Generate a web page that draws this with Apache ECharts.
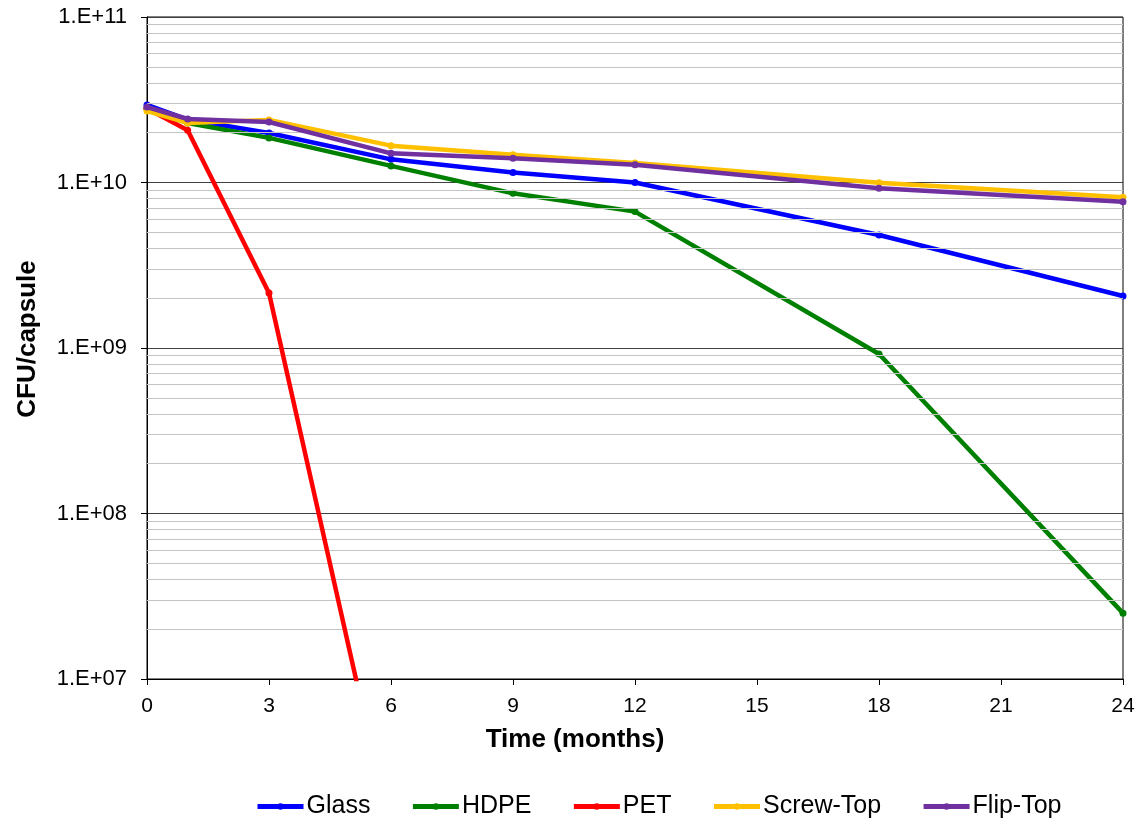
<!DOCTYPE html>
<html>
<head>
<meta charset="utf-8">
<script src="https://cdn.jsdelivr.net/npm/echarts@6/dist/echarts.min.js"></script>
<style>
html,body{margin:0;padding:0;background:#fff;}
#chart{width:1138px;height:819px;}
</style>
</head>
<body>
<div id="chart"></div>
<script>
// ---- data ----
const months = [0, 1, 3, 6, 9, 12, 18, 24];
const glass = [2.94e10, 2.40e10, 1.99e10, 1.38e10, 1.15e10, 1.00e10, 4.82e9, 2.06e9];
const hdpe = [2.80e10, 2.29e10, 1.86e10, 1.26e10, 8.6e9, 6.67e9, 9.2e8, 2.5e7];
const petMonths = [0, 1, 3, 6];
const pet = [2.80e10, 2.07e10, 2.15e9, 1.15e6];
const screwTop = [2.70e10, 2.29e10, 2.39e10, 1.67e10, 1.47e10, 1.31e10, 9.98e9, 8.15e9];
const flipTop = [2.86e10, 2.42e10, 2.32e10, 1.50e10, 1.40e10, 1.28e10, 9.23e9, 7.66e9];
const seriesNames = ['Glass', 'HDPE', 'PET', 'Screw-Top', 'Flip-Top'];
const seriesColors = ['#0000FF', '#008000', '#FF0000', '#FFC000', '#7030A0'];
const xTicks = [0, 3, 6, 9, 12, 15, 18, 21, 24];
const decades = [1e7, 1e8, 1e9, 1e10];
const minorMultipliers = [2, 3, 4, 5, 6, 7, 8, 9];

const pairs = (xs, ys) => xs.map((x, i) => [x, ys[i]]);
const seriesData = [
  pairs(months, glass),
  pairs(months, hdpe),
  pairs(petMonths, pet),
  pairs(months, screwTop),
  pairs(months, flipTop)
];

const minorLines = [];
decades.forEach(d => minorMultipliers.forEach(m => minorLines.push({ yAxis: d * m })));

const font = '"Liberation Sans", Arial, sans-serif';
const chart = echarts.init(document.getElementById('chart'), null, { renderer: 'canvas' });

const series = [{
  name: '__grid',
  type: 'line',
  data: [],
  z: 1,
  silent: true,
  markLine: {
    silent: true,
    symbol: 'none',
    label: { show: false },
    lineStyle: { color: '#c4c4c4', width: 1, type: 'solid' },
    animation: false,
    data: minorLines
  }
}];
seriesNames.forEach((n, i) => {
  series.push({
    name: n,
    type: 'line',
    data: seriesData[i],
    z: 3 + i,
    clip: true,
    symbol: 'circle',
    symbolSize: 7,
    showSymbol: true,
    color: seriesColors[i],
    lineStyle: { width: 4.5, color: seriesColors[i] },
    itemStyle: { color: seriesColors[i] }
  });
});

chart.setOption({
  animation: false,
  backgroundColor: '#fff',
  grid: {
    left: 147, right: 15, top: 17, bottom: 140,
    show: true, borderColor: '#000', borderWidth: 1, backgroundColor: 'transparent'
  },
  legend: {
    data: seriesNames.map(n => ({ name: n })),
    top: 789,
    left: 250,
    itemWidth: 46,
    itemHeight: 8,
    itemGap: 40,
    lineStyle: { width: 5 },
    textStyle: { fontFamily: font, fontSize: 25, color: '#000', padding: [0, 0, 0, -2] }
  },
  xAxis: {
    type: 'value',
    min: 0, max: 24, interval: 3,
    name: 'Time (months)',
    nameLocation: 'middle',
    nameGap: 48,
    nameTextStyle: { fontFamily: font, fontSize: 26, fontWeight: 'bold', color: '#000', padding: [0, 120, 0, 0] },
    axisLine: { show: true, lineStyle: { color: '#000', width: 1 } },
    axisTick: { show: true, length: 6, inside: false, lineStyle: { color: '#000' } },
    axisLabel: { fontFamily: font, fontSize: 21, color: '#000', margin: 17,
      formatter: v => xTicks.includes(v) ? String(v) : '' },
    splitLine: { show: false }
  },
  yAxis: {
    type: 'log',
    logBase: 10,
    min: 1e7, max: 1e11,
    splitNumber: 4,
    name: 'CFU/capsule',
    nameLocation: 'middle',
    nameGap: 106,
    nameRotate: 90,
    nameTextStyle: { fontFamily: font, fontSize: 26, fontWeight: 'bold', color: '#000', padding: [0, 0, 0, 18] },
    axisLine: { show: true, lineStyle: { color: '#000', width: 1 } },
    axisTick: { show: true, length: 6, inside: false, lineStyle: { color: '#000' } },
    axisLabel: { fontFamily: font, fontSize: 22, color: '#000', margin: 20,
      formatter: v => {
        const e = Math.round(Math.log10(v));
        return '1.E+' + (e < 10 ? '0' + e : String(e));
      } },
    splitLine: { show: true, lineStyle: { color: '#404040', width: 1 } }
  },
  series: series
});
</script>
</body>
</html>
